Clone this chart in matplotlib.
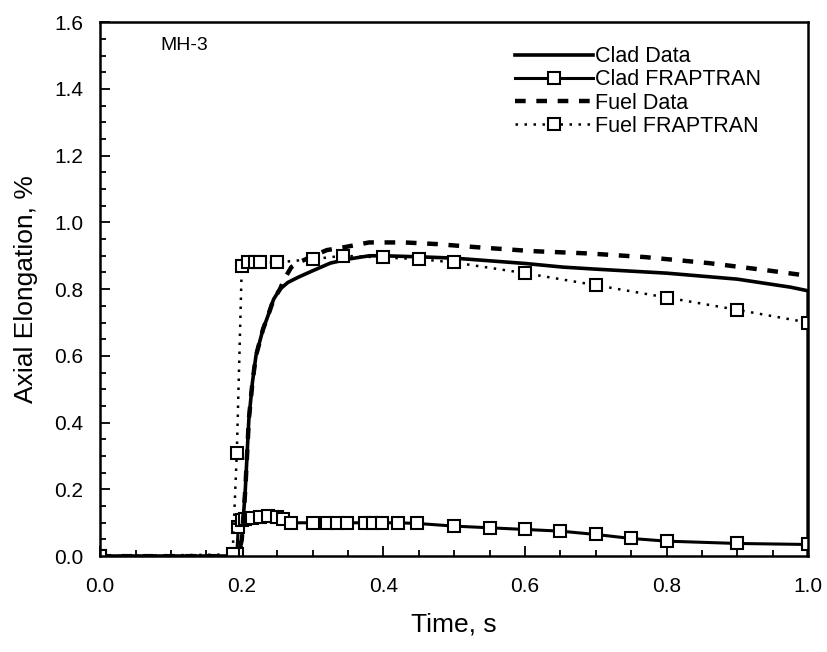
import numpy as np
import matplotlib.pyplot as plt
from matplotlib.ticker import MultipleLocator

plt.rcParams['font.family'] = ['Liberation Sans', 'DejaVu Sans']

# Clad measured elongation
clad_data_t = [0.0, 0.195, 0.2, 0.205, 0.21, 0.215, 0.22, 0.23, 0.237, 0.245, 0.254, 0.265,
               0.28, 0.3, 0.325, 0.35, 0.38, 0.4, 0.45, 0.5, 0.6, 0.654, 0.7, 0.8, 0.9,
               0.975, 1.0, 1.0]
clad_data_v = [0.0, 0.0, 0.05, 0.2, 0.41, 0.52, 0.6, 0.68, 0.72, 0.77, 0.80, 0.82,
               0.836, 0.855, 0.878, 0.89, 0.90, 0.90, 0.897, 0.893, 0.877, 0.866, 0.86,
               0.848, 0.83, 0.806, 0.795, 0.0]

# Clad FRAPTRAN
clad_frap_t = [0.0, 0.19, 0.193, 0.195, 0.2, 0.205, 0.215, 0.226, 0.237, 0.25, 0.258, 0.27,
               0.3, 0.32, 0.335, 0.349, 0.374, 0.386, 0.398, 0.421, 0.448, 0.5, 0.55,
               0.6, 0.65, 0.7, 0.75, 0.8, 0.9, 1.0]
clad_frap_v = [0.0, 0.0, 0.005, 0.087, 0.108, 0.11, 0.115, 0.118, 0.12, 0.117, 0.11, 0.10,
               0.10, 0.10, 0.10, 0.10, 0.10, 0.10, 0.10, 0.10, 0.098, 0.09, 0.085,
               0.08, 0.075, 0.065, 0.053, 0.045, 0.038, 0.035]

# Fuel measured elongation
fuel_data_t = [0.0, 0.195, 0.2, 0.205, 0.21, 0.215, 0.22, 0.23, 0.237, 0.245, 0.254, 0.26,
               0.27, 0.28, 0.32, 0.343, 0.38, 0.43, 0.476, 0.53, 0.61, 0.69, 0.77,
               0.86, 0.94, 1.0]
fuel_data_v = [0.0, 0.0, 0.05, 0.2, 0.41, 0.52, 0.6, 0.68, 0.72, 0.77, 0.80, 0.83,
               0.866, 0.88, 0.917, 0.925, 0.94, 0.94, 0.935, 0.926, 0.914, 0.907, 0.896,
               0.878, 0.857, 0.84]

# Fuel FRAPTRAN
fuel_frap_t = [0.0, 0.187, 0.193, 0.2, 0.209, 0.219, 0.226, 0.25, 0.3, 0.343, 0.4, 0.45,
               0.5, 0.6, 0.7, 0.8, 0.9, 1.0]
fuel_frap_v = [0.0, 0.005, 0.31, 0.87, 0.88, 0.88, 0.88, 0.88, 0.89, 0.90, 0.895, 0.89,
               0.88, 0.848, 0.812, 0.775, 0.738, 0.70]

fig = plt.figure(figsize=(8.28, 6.52), dpi=100)
ax = fig.add_axes([0.121, 0.147, 0.855, 0.819])

ax.plot(clad_data_t, clad_data_v, color='black', lw=2.6, label='Clad Data')
ax.plot(clad_frap_t, clad_frap_v, color='black', lw=2.2, marker='s', ms=8.5,
        mfc='white', mec='black', mew=1.5, label='Clad FRAPTRAN')
ax.plot(fuel_data_t, fuel_data_v, color='black', lw=3.2, ls=(0, (2.4, 2.4)),
        label='Fuel Data')
ax.plot(fuel_frap_t, fuel_frap_v, color='black', lw=1.8, ls=(0, (1, 2.6)), marker='s',
        ms=8.5, mfc='white', mec='black', mew=1.5, label='Fuel FRAPTRAN')

ax.set_xlim(0, 1.0)
ax.set_ylim(0, 1.6)
ax.xaxis.set_major_locator(MultipleLocator(0.2))
ax.xaxis.set_minor_locator(MultipleLocator(0.05))
ax.yaxis.set_major_locator(MultipleLocator(0.2))
ax.yaxis.set_minor_locator(MultipleLocator(0.05))
ax.xaxis.set_major_formatter(plt.FormatStrFormatter('%.1f'))
ax.yaxis.set_major_formatter(plt.FormatStrFormatter('%.1f'))
ax.tick_params(which='both', direction='in', labelsize=15, width=1.3)
ax.tick_params(which='major', length=7)
ax.tick_params(which='minor', length=4)
ax.tick_params(axis='x', which='major', pad=15)
ax.tick_params(axis='y', which='major', pad=12)
for s in ax.spines.values():
    s.set_linewidth(1.8)

ax.set_xlabel('Time, s', fontsize=19, labelpad=12)
ax.set_ylabel('Axial Elongation, %', fontsize=19, labelpad=12)

ax.text(0.085, 0.957, 'MH-3', transform=ax.transAxes, fontsize=14, va='center')

ax.legend(loc='upper left', bbox_to_anchor=(0.586, 0.955), frameon=False, fontsize=15.5,
          handlelength=3.6, handletextpad=0.1, labelspacing=0.1, numpoints=1,
          borderaxespad=0, borderpad=0)

fig.savefig('out.png', dpi=100)
